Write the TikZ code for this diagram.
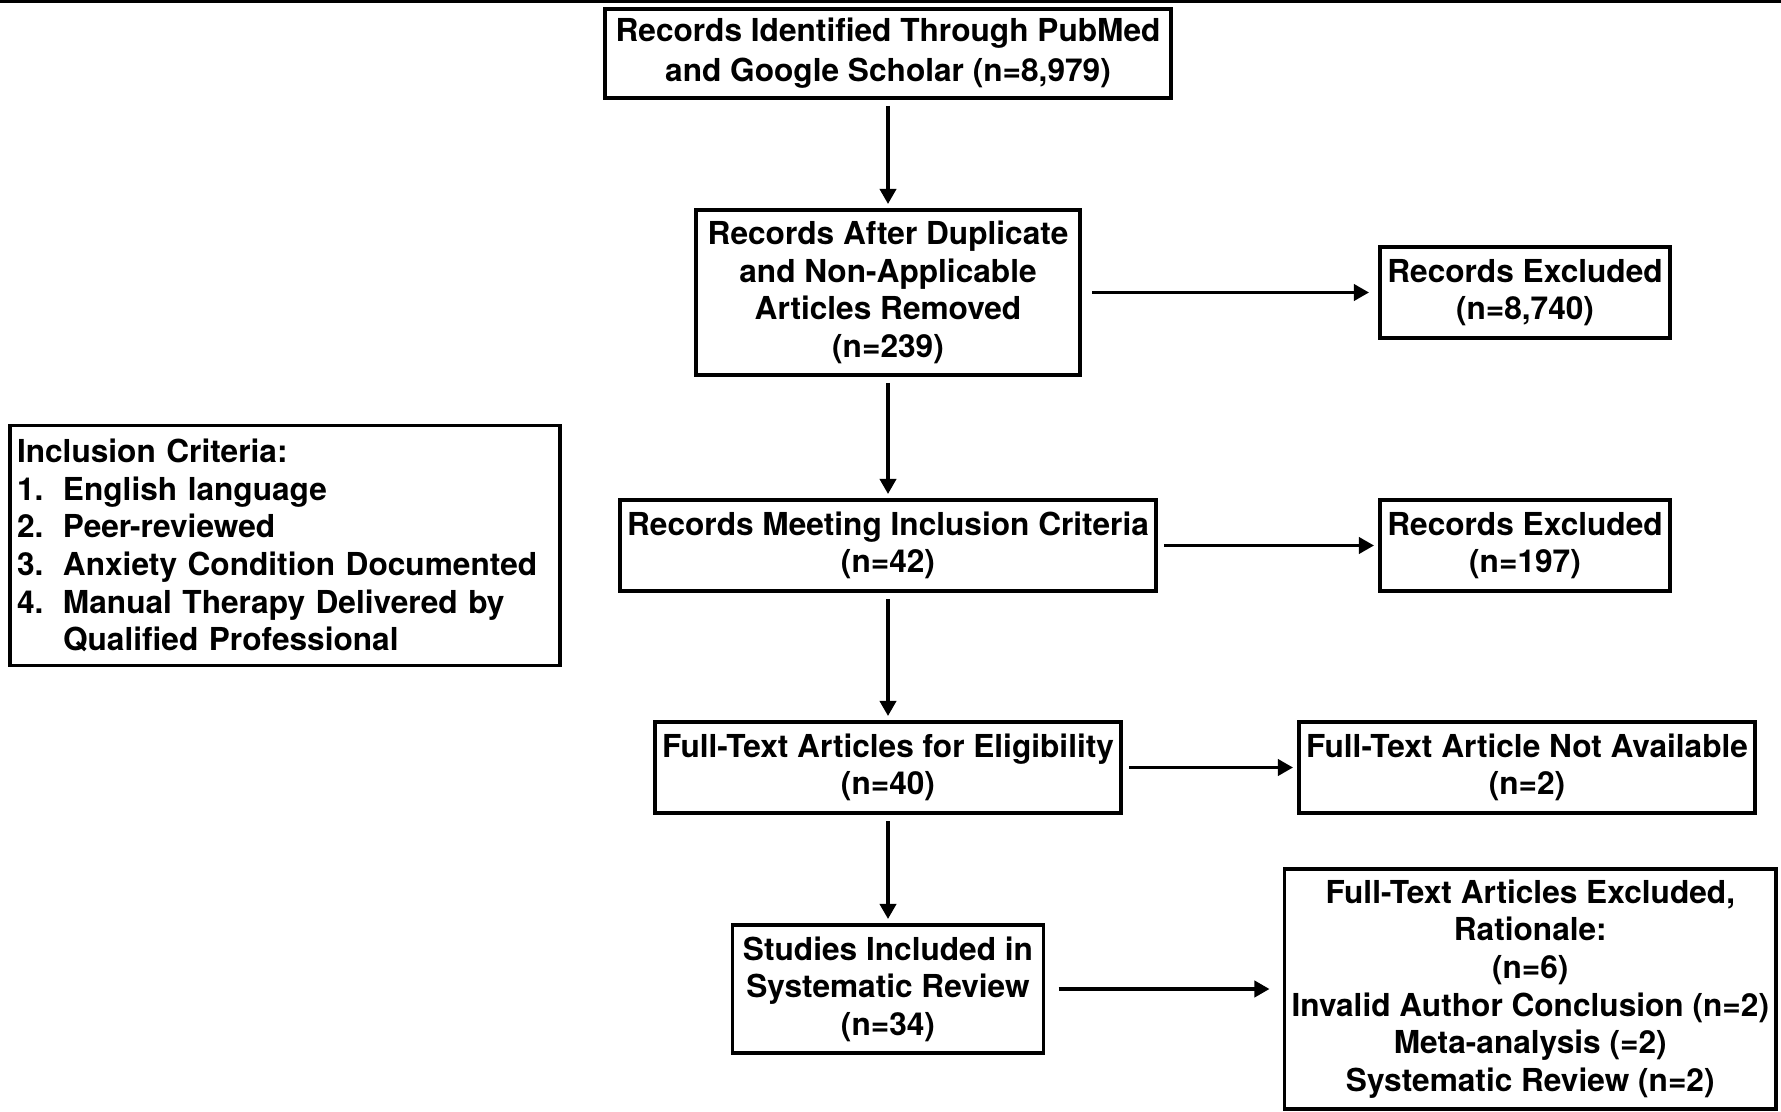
\documentclass[tikz,border=0pt]{standalone}
\usepackage{fontspec}
\setmainfont{TeX Gyre Heros}
\usetikzlibrary{arrows.meta,positioning}
\definecolor{ink}{RGB}{0,0,0}
\newcommand{\itm}[1]{\makebox[0.46cm][l]{#1}}

\begin{document}
\begin{tikzpicture}[font=\fontsize{9}{10.7}\selectfont\bfseries,>={Triangle[length=4.3pt,width=4.6pt]},
 b/.style={draw=ink,line width=1pt,align=center,inner sep=2pt,outer sep=0pt},
 a/.style={->,draw=ink,line width=1pt,shorten <=0.08cm,shorten >=0.06cm}]
 \useasboundingbox (0,0) rectangle (17.81,-11.12);
 \fill[ink] (0,0) rectangle (17.81,-0.03);
 \node[b,minimum width=5.66cm,minimum height=0.89cm,font=\fontsize{9}{11.3}\selectfont\bfseries](ident) at (8.88,-0.535){Records Identified Through PubMed\\and Google Scholar (n=8,979)};
 \node[b,below=1.12cm of ident,minimum width=3.84cm,minimum height=1.65cm](dup){Records After Duplicate\\and Non-Applicable\\Articles Removed\\(n=239)};
 \node[b,below=1.25cm of dup,minimum width=5.36cm,minimum height=0.91cm](meet){Records Meeting Inclusion Criteria\\(n=42)};
 \node[b,below=1.31cm of meet,minimum width=4.61cm,minimum height=0.91cm](full){Full-Text Articles for Eligibility\\(n=40)};
 \node[b,below=1.12cm of full,minimum width=3.11cm,minimum height=1.28cm](incl){Studies Included in\\Systematic Review\\(n=34)};
 \node[b,right=3.00cm of dup,minimum width=2.90cm,minimum height=0.91cm](exa){Records Excluded\\(n=8,740)};
 \node[b,right=2.24cm of meet,minimum width=2.90cm,minimum height=0.91cm](exb){Records Excluded\\(n=197)};
 \node[b,right=1.78cm of full,minimum width=4.56cm,minimum height=0.91cm](na){Full-Text Article Not Available\\(n=2)};
 \node[b,right=2.41cm of incl,minimum width=4.82cm,minimum height=2.40cm](rat){Full-Text Articles Excluded,\\Rationale:\\(n=6)\\Invalid Author Conclusion (n=2)\\Meta-analysis (=2)\\Systematic Review (n=2)};
 \node[b,left=0.60cm of meet,align=left,text width=5.36cm,inner xsep=0.07cm,minimum height=2.40cm](crit){Inclusion Criteria:\\\itm{1.}English language\\\itm{2.}Peer-reviewed\\\itm{3.}Anxiety Condition Documented\\\itm{4.}Manual Therapy Delivered by\\\itm{}Qualified Professional};
 \draw[a](ident)--(dup);
 \draw[a](dup)--(meet);
 \draw[a](meet)--(full);
 \draw[a](full)--(incl);
 \draw[a,shorten <=0.12cm,shorten >=0.11cm](dup)--(exa);
 \draw[a](meet)--(exb);
 \draw[a](full)--(na);
 \draw[a,shorten <=0.15cm,shorten >=0.15cm](incl)--(rat);
\end{tikzpicture}
\end{document}
